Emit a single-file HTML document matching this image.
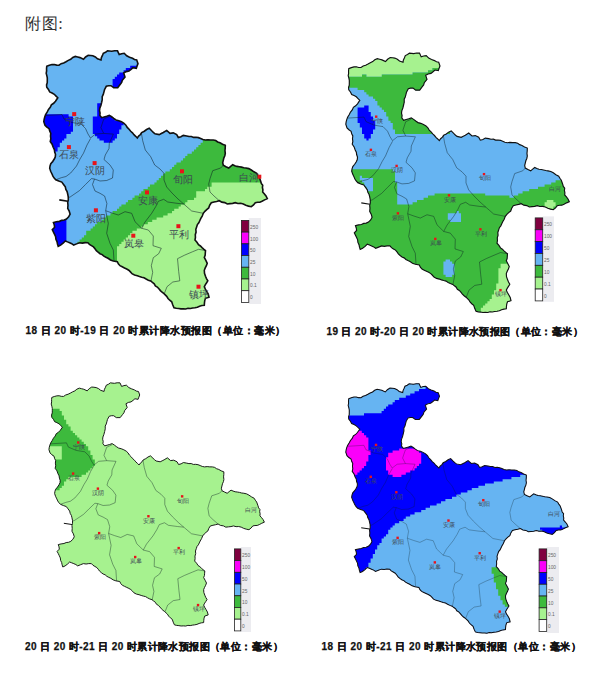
<!DOCTYPE html>
<html><head><meta charset="utf-8"><style>
html,body{margin:0;padding:0;background:#fff;width:600px;height:673px;overflow:hidden}
svg{position:absolute;left:0;top:0}
</style></head><body>
<svg width="600" height="673" viewBox="0 0 600 673">
<defs>
<path id="ol" d="M46.75,66.3 L49.3262,65.2992 L52,64.6 L54.3602,64.4869 L56.6551,65.1353 L59,65.2 L61.1612,63.6892 L63.6811,62.8956 L66,61.7 L68.295,60.3923 L70.7,59.3 L72.7879,57.5135 L75.3,56.4 L77.6483,57.0065 L80,57.6 L83.5,59.3 L85.5783,56.9597 L88.2,55.25 L90.5071,55.4657 L92.8,55.8 L95.3558,56.9471 L97.5,58.75 L101,59.9 L101.419,57.5788 L102.469,55.4776 L103.3,53.3 L105.55,52.3028 L107.5,50.8 L111.7,51.3 L114.571,50.7127 L117.5,50.8 L119.2,54.6 L121.637,53.7089 L124.2,53.3 L126.7,55.8 L129.555,57.1553 L132.5,58.3 L134.449,59.5235 L136.7,60 L138,63.7 L137.085,65.9759 L136.3,68.3 L133,67.7 L131.059,69.4217 L129,71 L126.199,71.599 L123.7,73 L125,77 L122.3,80.3 L121.665,82.4825 L120.3,84.3 L117.7,87.7 L113.7,87.7 L111,85.7 L108.609,85.68 L106.3,86.3 L104.5,89.7 L103.913,92.0924 L103.271,94.4666 L102.2,96.7 L102.242,99.6354 L101.6,102.5 L100.865,105.451 L99.8,108.3 L99.5155,110.633 L100.087,112.967 L99.8,115.3 L101.6,117.7 L104.189,116.97 L106.771,116.219 L109.3,115.3 L111.599,116.773 L113.742,118.469 L116,120 L118.817,120.736 L121.484,121.834 L124,123.3 L125.878,125.13 L127.226,127.404 L129.075,129.258 L130.7,131.3 L132.469,132.858 L133.945,134.704 L135.68,136.295 L137.3,138 L138.626,136.054 L140.44,134.499 L141.7,132.5 L144.288,131.256 L146.587,129.499 L149.2,128.3 L151.7,130.8 L153.305,132.325 L155,133.75 L159.2,134.6 L161.26,133.57 L163.3,132.5 L166.7,130.4 L170,133.3 L173.3,132.9 L176.7,134.6 L178.3,137.5 L180.931,136.761 L183.3,135.4 L186.7,136 L188.996,136.53 L191.376,136.461 L193.615,137.403 L196,137.3 L198.421,137.645 L200.671,138.579 L202.91,139.547 L205.3,140 L207.967,139.687 L210.633,139.99 L213.3,140 L215.688,140.515 L217.71,141.94 L220,142.7 L222.545,144.214 L225.3,145.3 L225.234,147.967 L224.962,150.633 L225.3,153.3 L224.812,155.695 L223.831,157.953 L223.268,160.327 L222.7,162.7 L223.3,165.3 L225.968,166.714 L228.7,168 L230.675,166.32 L232.7,164.7 L234.811,165.659 L236.984,166.416 L239.3,166.7 L241.538,167.11 L243.739,167.712 L246,168 L248.79,168.63 L251.3,170 L253.905,171.805 L256.7,173.3 L257.889,175.372 L259.3,177.3 L260.7,181.3 L261.303,183.498 L262.7,185.3 L262.41,187.533 L262.894,189.767 L262.7,192 L264.429,193.935 L266,196 L267.3,198.7 L264.583,199.864 L262,201.3 L259.855,202.187 L257.54,202.267 L255.3,202.7 L253.511,204.911 L251.3,206.7 L248.523,206.127 L245.84,205.276 L243.3,204 L240.672,203.328 L237.913,203.463 L235.3,202.7 L232.67,203.358 L229.982,203.664 L227.3,204 L224.761,202.591 L221.823,202.149 L219.3,200.7 L216.644,201.411 L213.956,201.99 L211.3,202.7 L209.69,205.198 L208.7,208 L206.699,209.562 L204.871,211.3 L203.3,213.3 L202.18,216.087 L200.7,218.7 L199.768,220.734 L198.814,222.757 L197.391,224.545 L196.7,226.7 L195.828,229.296 L196.076,232.087 L195.3,234.7 L195.441,237.366 L195,240 L196.943,242.206 L198.5,244.7 L200.403,245.965 L202.009,247.59 L203.699,249.112 L205.5,250.5 L205.31,252.869 L205.14,255.242 L204.3,257.5 L205.84,260.367 L207.25,263.3 L206.375,265.679 L205.228,267.943 L204.3,270.3 L204.5,273.331 L205.5,276.2 L206.497,278.577 L207.8,280.8 L206.621,282.76 L205.376,284.679 L204.3,286.7 L205.359,289.073 L206.7,291.3 L208.224,294.104 L209,297.2 L205.5,298.3 L204.746,300.573 L204.452,302.924 L204.3,305.3 L201.891,305.574 L199.583,306.24 L197.349,307.194 L195,307.7 L192.669,308.011 L190.353,308.495 L187.969,308.24 L185.677,308.972 L183.3,308.8 L180.929,308.912 L178.619,308.51 L176.289,308.277 L174,307.7 L172.716,304.802 L171.7,301.8 L169.735,300.238 L168.034,298.436 L166.7,296.3 L164,293.7 L162.103,292.247 L160.396,290.604 L158.888,288.762 L157.3,287 L155.363,285.816 L154.227,283.751 L152.419,282.424 L150.7,281 L148.327,280.184 L146.135,279 L144,277.7 L141.727,277.165 L139.498,276.484 L137.3,275.7 L134.53,275.018 L132,273.7 L130.442,271.898 L128.761,270.235 L126.7,269 L124.453,267.927 L122.227,266.813 L120,265.7 L118.341,263.909 L117.3,261.7 L113.3,261 L110.487,259.969 L108,258.3 L105.929,257.273 L103.894,256.184 L102.148,254.593 L100,253.7 L98.1179,252.249 L96.3632,250.67 L95,248.7 L93.487,246.89 L91.4664,245.681 L89.4697,244.443 L87.9,242.7 L85.1333,242.661 L82.3667,243.126 L79.6,242.7 L76.6155,243.877 L73.65,245.1 L71.7523,243.688 L69.6191,242.756 L67.4653,241.866 L65.3,241 L63.0913,243.212 L60.6,245.1 L58.2,246.3 L57.4837,243.954 L57,241.55 L55.9159,239.262 L55.632,236.705 L54.6,234.4 L53.4763,232.037 L52.3,229.7 L54.6,227.3 L54.2692,224.841 L53.45,222.5 L56.3959,221.774 L59.4,221.35 L61.6883,220.33 L64.2214,220.049 L66.5,219 L68.6491,216.862 L70.1,214.2 L69.194,211.13 L67.7,208.3 L67.9755,205.3 L67.7,202.3 L68.3,200 L68.2851,196.971 L67.7,194 L67.1045,191.564 L65.867,189.345 L65.3,186.9 L63.5628,184.491 L61.8,182.1 L58.7526,181.046 L55.8,179.75 L54.1797,178.067 L52.9122,176.151 L52,174 L50.6659,171.224 L49.7,168.3 L50.0392,165.95 L50.8,163.7 L52.689,161.453 L54.3,159 L55.2981,156.752 L55.5,154.3 L54.6882,151.981 L54.3403,149.511 L53.2,147.3 L52.1165,144.201 L50.25,141.5 L50.8419,138.794 L50.4951,136.025 L50.8,133.3 L49.714,131.087 L49.1,128.7 L46.8904,127.137 L45,125.2 L43.8,121.7 L44.1356,119.299 L44.7423,116.967 L45.6,114.7 L47.1475,112.154 L48.5,109.5 L50.2566,107.339 L51.4,104.8 L53.6489,103.283 L55.5,101.3 L57.8,97.8 L56.0369,96.0631 L54.3,94.3 L52.0616,93.0269 L49.7,92 L48.4534,89.5066 L46.75,87.3 L46.5608,84.9374 L47.2607,82.6447 L47.3,80.3 L47.2977,77.9094 L46.8177,75.5939 L46.2,73.3 L46.6078,70.9843 L46.547,68.6318Z"/>
<path id="cty" d="M46,115.5 L62,114.5 L64,119 L72,122.5 L81,124 L85.5,128.5 L88,134 L90.5,138 L95.4,134.1 L103.7,133.4 L113.4,134.1 M103.7,133.4 L100.9,127.7 L103.7,119.2 L109.2,116.5 M90.5,138.6 L87,145 L83.5,153.2 L80,159 L76.5,166 L70.7,173 L66,176.5 L61.3,177.7 L55.8,179.75 M113.4,134.1 L109.3,143.3 L109,148.5 L105.3,155 L104,159.5 L110,165 L113.3,170 L112.5,178 L106.7,180.5 L100,181 L94.5,179 L92.5,184.5 L95,191 L100,193.3 L104.6,196 L106.9,203.5 L105.7,210.7 M94.5,179 L91.5,178.6 L85.5,184.5 L79.6,190.5 L70.1,197 L67.9,197.5 M141.3,132.7 L142.7,140.7 L145.3,150 L150.7,156.7 L154.7,165 L160,169 L164,173.3 L164,180 L166.7,187 L172,193 L178,199 L183.7,204 M141.7,228.3 L145,222 L151.7,213.3 L155.7,206.7 L158.3,201.3 L163.7,199.3 L167.7,202 L177,203.3 L183.7,204 L191.7,211 L203.3,213.3 M223.3,165.3 L220.7,168 L212.7,170.7 L210,178.7 L208.7,184 L210,192 L214,196 L219.3,200.7 M105.7,210.7 L112,213 L118.3,215 L125,211.7 L131.7,213.3 L135,221.7 L141.7,228.3 L148.3,230 L153.3,236 L153,245.7 L161.3,248.3 L158.7,253.7 L153.3,257.7 L151.3,265.7 L152.7,272.3 L150.9,281.3 M105.7,210.7 L108.3,223.3 L106.7,233.3 L110,243.3 L113.3,250 L114,261 M205.5,250.5 L198.5,249.3 L192.7,251.7 L184.5,255.2 L177.5,258.7 L178.7,271.5 L179.8,280.8 L172.8,282 L167,286.7 L164.4,293.4"/>
<clipPath id="c1"><use href="#ol" transform="matrix(1,0,0,1,0,0)"/></clipPath>
<clipPath id="c2"><use href="#ol" transform="matrix(1.0,0,0,1.005,302,2)"/></clipPath>
<clipPath id="c3"><use href="#ol" transform="matrix(0.964,0,0,0.942,6.7,335)"/></clipPath>
<clipPath id="c4"><use href="#ol" transform="matrix(0.995,0,0,0.966,302.2,334.7)"/></clipPath>
</defs>
<text x="24.5" y="29.3" font-family="Liberation Serif" font-size="16.4" fill="#333">附</text><text x="42" y="29.3" font-family="Liberation Serif" font-size="16.4" fill="#333">图</text><text x="58.3" y="29.3" font-family="Liberation Serif" font-size="16.4" fill="#333">:</text>
<g clip-path="url(#c1)">
<rect x="0" y="0" width="600" height="673" fill="#66b4f2"/>
<path fill="#0000ff" d="M136.8,63.6h2.2v2.2h-2.2zM130.2,65.8h8.8v2.2h-8.8zM125.8,68.0h13.2v2.2h-13.2zM123.6,70.2h11.0v2.2h-11.0zM119.2,72.4h11.0v2.2h-11.0zM117.0,74.6h13.2v2.2h-13.2zM114.8,76.8h13.2v2.2h-13.2zM112.6,79.0h13.2v2.2h-13.2zM112.6,81.2h11.0v2.2h-11.0zM112.6,83.4h8.8v2.2h-8.8zM112.6,85.6h8.8v2.2h-8.8zM114.8,87.8h4.4v2.2h-4.4z"/>
<path fill="#0000ff" d="M40.0,114.2h28.6v2.2h-28.6zM40.0,116.4h33.0v2.2h-33.0zM40.0,118.6h33.0v2.2h-33.0zM40.0,120.8h33.0v2.2h-33.0zM40.0,123.0h33.0v2.2h-33.0zM40.0,125.2h33.0v2.2h-33.0zM40.0,127.4h33.0v2.2h-33.0zM40.0,129.6h33.0v2.2h-33.0zM40.0,131.8h30.8v2.2h-30.8zM40.0,134.0h26.4v2.2h-26.4zM40.0,136.2h26.4v2.2h-26.4zM40.0,138.4h24.2v2.2h-24.2zM40.0,140.6h22.0v2.2h-22.0zM40.0,142.8h19.8v2.2h-19.8zM40.0,145.0h19.8v2.2h-19.8zM40.0,147.2h17.6v2.2h-17.6zM40.0,149.4h17.6v2.2h-17.6zM40.0,151.6h15.4v2.2h-15.4zM40.0,153.8h15.4v2.2h-15.4zM40.0,156.0h15.4v2.2h-15.4zM40.0,158.2h13.2v2.2h-13.2zM40.0,160.4h13.2v2.2h-13.2zM40.0,162.6h11.0v2.2h-11.0z"/>
<path fill="#0000ff" d="M97.2,103.2h4.4v2.2h-4.4zM97.2,105.4h4.4v2.2h-4.4zM97.2,107.6h4.4v2.2h-4.4zM97.2,109.8h4.4v2.2h-4.4zM97.2,112.0h4.4v2.2h-4.4zM97.2,114.2h4.4v2.2h-4.4zM108.2,114.2h2.2v2.2h-2.2zM92.8,116.4h19.8v2.2h-19.8zM92.8,118.6h22.0v2.2h-22.0zM92.8,120.8h28.6v2.2h-28.6zM92.8,123.0h30.8v2.2h-30.8zM92.8,125.2h28.6v2.2h-28.6zM92.8,127.4h28.6v2.2h-28.6zM92.8,129.6h26.4v2.2h-26.4zM92.8,131.8h26.4v2.2h-26.4zM95.0,134.0h22.0v2.2h-22.0zM97.2,136.2h19.8v2.2h-19.8zM99.4,138.4h15.4v2.2h-15.4zM103.8,140.6h8.8v2.2h-8.8z"/>
<path fill="#0000ff" d="M40.0,219.8h26.4v2.2h-26.4zM40.0,222.0h26.4v2.2h-26.4zM40.0,224.2h26.4v2.2h-26.4zM40.0,226.4h26.4v2.2h-26.4zM40.0,228.6h26.4v2.2h-26.4zM40.0,230.8h26.4v2.2h-26.4zM40.0,233.0h26.4v2.2h-26.4zM40.0,235.2h26.4v2.2h-26.4zM40.0,237.4h26.4v2.2h-26.4zM40.0,239.6h26.4v2.2h-26.4zM40.0,241.8h24.2v2.2h-24.2zM40.0,244.0h24.2v2.2h-24.2zM40.0,246.2h22.0v2.2h-22.0zM40.0,248.4h19.8v2.2h-19.8z"/>
<path fill="#3dba3d" d="M209.4,125.2h63.8v2.2h-63.8zM209.4,127.4h63.8v2.2h-63.8zM207.2,129.6h66.0v2.2h-66.0zM207.2,131.8h66.0v2.2h-66.0zM205.0,134.0h68.2v2.2h-68.2zM205.0,136.2h68.2v2.2h-68.2zM202.8,138.4h70.4v2.2h-70.4zM202.8,140.6h70.4v2.2h-70.4zM200.6,142.8h72.6v2.2h-72.6zM198.4,145.0h74.8v2.2h-74.8zM196.2,147.2h77.0v2.2h-77.0zM194.0,149.4h79.2v2.2h-79.2zM191.8,151.6h81.4v2.2h-81.4zM187.4,153.8h85.8v2.2h-85.8zM185.2,156.0h88.0v2.2h-88.0zM183.0,158.2h90.2v2.2h-90.2zM180.8,160.4h92.4v2.2h-92.4zM176.4,162.6h96.8v2.2h-96.8zM174.2,164.8h99.0v2.2h-99.0zM172.0,167.0h101.2v2.2h-101.2zM169.8,169.2h103.4v2.2h-103.4zM165.4,171.4h107.8v2.2h-107.8zM163.2,173.6h110.0v2.2h-110.0zM161.0,175.8h112.2v2.2h-112.2zM158.8,178.0h114.4v2.2h-114.4zM156.6,180.2h116.6v2.2h-116.6zM154.4,182.4h118.8v2.2h-118.8zM150.0,184.6h123.2v2.2h-123.2zM147.8,186.8h125.4v2.2h-125.4zM143.4,189.0h129.8v2.2h-129.8zM141.2,191.2h132.0v2.2h-132.0zM139.0,193.4h134.2v2.2h-134.2zM134.6,195.6h138.6v2.2h-138.6zM132.4,197.8h140.8v2.2h-140.8zM128.0,200.0h145.2v2.2h-145.2zM125.8,202.2h147.4v2.2h-147.4zM121.4,204.4h151.8v2.2h-151.8zM119.2,206.6h154.0v2.2h-154.0zM117.0,208.8h156.2v2.2h-156.2zM112.6,211.0h160.6v2.2h-160.6zM110.4,213.2h162.8v2.2h-162.8zM106.0,215.4h167.2v2.2h-167.2zM103.8,217.6h169.4v2.2h-169.4zM101.6,219.8h171.6v2.2h-171.6zM97.2,222.0h176.0v2.2h-176.0zM95.0,224.2h178.2v2.2h-178.2zM92.8,226.4h180.4v2.2h-180.4zM90.6,228.6h182.6v2.2h-182.6zM86.2,230.8h187.0v2.2h-187.0zM86.2,233.0h187.0v2.2h-187.0zM84.0,235.2h189.2v2.2h-189.2zM81.8,237.4h191.4v2.2h-191.4zM79.6,239.6h193.6v2.2h-193.6zM77.4,241.8h195.8v2.2h-195.8zM77.4,244.0h195.8v2.2h-195.8zM75.2,246.2h198.0v2.2h-198.0zM73.0,248.4h200.2v2.2h-200.2zM70.8,250.6h202.4v2.2h-202.4zM68.6,252.8h204.6v2.2h-204.6zM68.6,255.0h204.6v2.2h-204.6zM66.4,257.2h206.8v2.2h-206.8zM64.2,259.4h209.0v2.2h-209.0zM62.0,261.6h211.2v2.2h-211.2zM59.8,263.8h213.4v2.2h-213.4zM57.6,266.0h215.6v2.2h-215.6zM57.6,268.2h215.6v2.2h-215.6zM55.4,270.4h217.8v2.2h-217.8zM53.2,272.6h220.0v2.2h-220.0zM51.0,274.8h222.2v2.2h-222.2zM48.8,277.0h224.4v2.2h-224.4zM48.8,279.2h224.4v2.2h-224.4zM46.6,281.4h226.6v2.2h-226.6zM44.4,283.6h228.8v2.2h-228.8zM42.2,285.8h231.0v2.2h-231.0zM40.0,288.0h233.2v2.2h-233.2zM40.0,290.2h233.2v2.2h-233.2zM40.0,292.4h233.2v2.2h-233.2zM40.0,294.6h233.2v2.2h-233.2zM40.0,296.8h233.2v2.2h-233.2zM40.0,299.0h233.2v2.2h-233.2zM40.0,301.2h233.2v2.2h-233.2zM40.0,303.4h233.2v2.2h-233.2zM40.0,305.6h233.2v2.2h-233.2zM40.0,307.8h233.2v2.2h-233.2zM40.0,310.0h233.2v2.2h-233.2zM40.0,312.2h233.2v2.2h-233.2z"/>
<path fill="#a6f28f" d="M211.6,182.4h61.6v2.2h-61.6zM211.6,184.6h61.6v2.2h-61.6zM207.2,186.8h66.0v2.2h-66.0zM205.0,189.0h68.2v2.2h-68.2zM196.2,191.2h77.0v2.2h-77.0zM196.2,193.4h77.0v2.2h-77.0zM196.2,195.6h77.0v2.2h-77.0zM194.0,197.8h79.2v2.2h-79.2zM187.4,200.0h85.8v2.2h-85.8zM185.2,202.2h88.0v2.2h-88.0zM180.8,204.4h92.4v2.2h-92.4zM178.6,206.6h94.6v2.2h-94.6zM174.2,208.8h99.0v2.2h-99.0zM172.0,211.0h101.2v2.2h-101.2zM167.6,213.2h105.6v2.2h-105.6zM163.2,215.4h110.0v2.2h-110.0zM156.6,217.6h116.6v2.2h-116.6zM152.2,219.8h121.0v2.2h-121.0zM147.8,222.0h125.4v2.2h-125.4zM143.4,224.2h129.8v2.2h-129.8zM141.2,226.4h132.0v2.2h-132.0zM136.8,228.6h136.4v2.2h-136.4zM132.4,230.8h140.8v2.2h-140.8zM130.2,233.0h143.0v2.2h-143.0zM128.0,235.2h145.2v2.2h-145.2zM125.8,237.4h147.4v2.2h-147.4zM123.6,239.6h149.6v2.2h-149.6zM121.4,241.8h151.8v2.2h-151.8zM119.2,244.0h154.0v2.2h-154.0zM117.0,246.2h156.2v2.2h-156.2zM117.0,248.4h156.2v2.2h-156.2zM117.0,250.6h156.2v2.2h-156.2zM117.0,252.8h156.2v2.2h-156.2zM117.0,255.0h156.2v2.2h-156.2zM117.0,257.2h156.2v2.2h-156.2zM117.0,259.4h156.2v2.2h-156.2zM117.0,261.6h156.2v2.2h-156.2zM117.0,263.8h156.2v2.2h-156.2zM117.0,266.0h156.2v2.2h-156.2zM117.0,268.2h156.2v2.2h-156.2zM117.0,270.4h156.2v2.2h-156.2zM117.0,272.6h156.2v2.2h-156.2zM117.0,274.8h156.2v2.2h-156.2zM117.0,277.0h156.2v2.2h-156.2zM117.0,279.2h156.2v2.2h-156.2zM117.0,281.4h156.2v2.2h-156.2zM117.0,283.6h156.2v2.2h-156.2zM117.0,285.8h156.2v2.2h-156.2zM117.0,288.0h156.2v2.2h-156.2zM117.0,290.2h156.2v2.2h-156.2zM117.0,292.4h156.2v2.2h-156.2zM117.0,294.6h156.2v2.2h-156.2zM117.0,296.8h156.2v2.2h-156.2zM117.0,299.0h156.2v2.2h-156.2zM117.0,301.2h156.2v2.2h-156.2zM117.0,303.4h156.2v2.2h-156.2zM117.0,305.6h156.2v2.2h-156.2zM117.0,307.8h156.2v2.2h-156.2zM117.0,310.0h156.2v2.2h-156.2zM117.0,312.2h156.2v2.2h-156.2z"/>
</g>
<use href="#cty" transform="matrix(1,0,0,1,0,0)" fill="none" stroke="#0a1a20" stroke-opacity="0.55" stroke-width="0.95"/>
<use href="#ol" transform="matrix(1,0,0,1,0,0)" fill="none" stroke="#111" stroke-width="1.6"/>
<path d="M67.80,201.20 L59.30,199.90" stroke="#111" stroke-width="1.6"/>
<rect x="72.20" y="112.10" width="4.0" height="4.0" fill="#e8141a"/>
<rect x="66.90" y="145.10" width="4.0" height="4.0" fill="#e8141a"/>
<rect x="92.60" y="161.10" width="4.0" height="4.0" fill="#e8141a"/>
<rect x="93.90" y="208.30" width="4.0" height="4.0" fill="#e8141a"/>
<rect x="145.00" y="190.40" width="4.0" height="4.0" fill="#e8141a"/>
<rect x="131.30" y="233.70" width="4.0" height="4.0" fill="#e8141a"/>
<rect x="180.00" y="169.30" width="4.0" height="4.0" fill="#e8141a"/>
<rect x="257.30" y="174.70" width="4.0" height="4.0" fill="#e8141a"/>
<rect x="176.40" y="224.20" width="4.0" height="4.0" fill="#e8141a"/>
<rect x="196.50" y="284.70" width="4.0" height="4.0" fill="#e8141a"/>
<text x="74.70" y="125.40" text-anchor="middle" font-size="10" fill="#3c4852" font-family="Liberation Sans">宁陕</text>
<text x="69.40" y="158.40" text-anchor="middle" font-size="10" fill="#3c4852" font-family="Liberation Sans">石泉</text>
<text x="95.10" y="174.40" text-anchor="middle" font-size="10" fill="#3c4852" font-family="Liberation Sans">汉阴</text>
<text x="96.40" y="221.60" text-anchor="middle" font-size="10" fill="#3c4852" font-family="Liberation Sans">紫阳</text>
<text x="147.50" y="203.70" text-anchor="middle" font-size="10" fill="#3c4852" font-family="Liberation Sans">安康</text>
<text x="133.80" y="247.00" text-anchor="middle" font-size="10" fill="#3c4852" font-family="Liberation Sans">岚皋</text>
<text x="182.50" y="182.60" text-anchor="middle" font-size="10" fill="#3c4852" font-family="Liberation Sans">旬阳</text>
<text x="248.6" y="181" text-anchor="middle" font-size="10" fill="#3c4852" font-family="Liberation Sans">白河</text>
<text x="178.90" y="237.50" text-anchor="middle" font-size="10" fill="#3c4852" font-family="Liberation Sans">平利</text>
<text x="199.00" y="298.00" text-anchor="middle" font-size="10" fill="#3c4852" font-family="Liberation Sans">镇坪</text>
<g clip-path="url(#c2)">
<rect x="0" y="0" width="600" height="673" fill="#66b4f2"/>
<path fill="#a6f28f" d="M340.0,46.0h110.0v2.2h-110.0zM340.0,48.2h110.0v2.2h-110.0zM340.0,50.4h110.0v2.2h-110.0zM340.0,52.6h110.0v2.2h-110.0zM340.0,54.8h110.0v2.2h-110.0zM340.0,57.0h110.0v2.2h-110.0zM340.0,59.2h110.0v2.2h-110.0zM340.0,61.4h110.0v2.2h-110.0zM340.0,63.6h105.6v2.2h-105.6zM340.0,65.8h99.0v2.2h-99.0zM340.0,68.0h92.4v2.2h-92.4zM340.0,70.2h88.0v2.2h-88.0zM340.0,72.4h72.6v2.2h-72.6zM340.0,74.6h22.0v2.2h-22.0zM366.4,74.6h15.4v2.2h-15.4z"/>
<path fill="#3dba3d" d="M445.6,63.6h4.4v2.2h-4.4zM439.0,65.8h11.0v2.2h-11.0zM432.4,68.0h17.6v2.2h-17.6zM428.0,70.2h22.0v2.2h-22.0zM412.6,72.4h37.4v2.2h-37.4zM362.0,74.6h4.4v2.2h-4.4zM381.8,74.6h68.2v2.2h-68.2zM340.0,76.8h110.0v2.2h-110.0zM340.0,79.0h110.0v2.2h-110.0zM340.0,81.2h110.0v2.2h-110.0zM340.0,83.4h110.0v2.2h-110.0zM340.0,85.6h110.0v2.2h-110.0zM357.6,87.8h92.4v2.2h-92.4zM364.2,90.0h85.8v2.2h-85.8zM366.4,92.2h83.6v2.2h-83.6zM368.6,94.4h81.4v2.2h-81.4zM373.0,96.6h77.0v2.2h-77.0zM375.2,98.8h74.8v2.2h-74.8zM377.4,101.0h72.6v2.2h-72.6zM377.4,103.2h72.6v2.2h-72.6zM379.6,105.4h70.4v2.2h-70.4zM381.8,107.6h68.2v2.2h-68.2zM384.0,109.8h66.0v2.2h-66.0zM386.2,112.0h63.8v2.2h-63.8zM386.2,114.2h63.8v2.2h-63.8zM388.4,116.4h61.6v2.2h-61.6zM388.4,118.6h61.6v2.2h-61.6zM390.6,120.8h59.4v2.2h-59.4zM392.8,123.0h57.2v2.2h-57.2zM392.8,125.2h57.2v2.2h-57.2zM392.8,127.4h57.2v2.2h-57.2zM395.0,129.6h55.0v2.2h-55.0zM395.0,131.8h55.0v2.2h-55.0z"/>
<path fill="#0000ff" d="M364.2,105.4h4.4v2.2h-4.4zM357.6,107.6h11.0v2.2h-11.0zM357.6,109.8h11.0v2.2h-11.0zM357.6,112.0h13.2v2.2h-13.2zM357.6,114.2h13.2v2.2h-13.2zM357.6,116.4h15.4v2.2h-15.4zM357.6,118.6h15.4v2.2h-15.4zM357.6,120.8h17.6v2.2h-17.6zM359.8,123.0h15.4v2.2h-15.4zM359.8,125.2h15.4v2.2h-15.4zM362.0,127.4h13.2v2.2h-13.2zM362.0,129.6h11.0v2.2h-11.0zM362.0,131.8h11.0v2.2h-11.0zM364.2,134.0h6.6v2.2h-6.6zM364.2,136.2h6.6v2.2h-6.6zM366.4,138.4h2.2v2.2h-2.2z"/>
<path fill="#3dba3d" d="M340.0,169.2h52.8v2.2h-52.8zM340.0,171.4h55.0v2.2h-55.0zM340.0,173.6h55.0v2.2h-55.0zM340.0,175.8h55.0v2.2h-55.0zM340.0,178.0h55.0v2.2h-55.0zM571.0,178.0h4.4v2.2h-4.4zM340.0,180.2h55.0v2.2h-55.0zM555.6,180.2h19.8v2.2h-19.8zM340.0,182.4h57.2v2.2h-57.2zM551.2,182.4h24.2v2.2h-24.2zM340.0,184.6h57.2v2.2h-57.2zM544.6,184.6h30.8v2.2h-30.8zM340.0,186.8h57.2v2.2h-57.2zM538.0,186.8h37.4v2.2h-37.4zM340.0,189.0h57.2v2.2h-57.2zM529.2,189.0h46.2v2.2h-46.2zM340.0,191.2h57.2v2.2h-57.2zM522.6,191.2h52.8v2.2h-52.8zM340.0,193.4h57.2v2.2h-57.2zM434.6,193.4h50.6v2.2h-50.6zM518.2,193.4h57.2v2.2h-57.2zM340.0,195.6h57.2v2.2h-57.2zM428.0,195.6h81.4v2.2h-81.4zM513.8,195.6h61.6v2.2h-61.6zM340.0,197.8h57.2v2.2h-57.2zM423.6,197.8h151.8v2.2h-151.8zM340.0,200.0h57.2v2.2h-57.2zM417.0,200.0h158.4v2.2h-158.4zM340.0,202.2h57.2v2.2h-57.2zM412.6,202.2h162.8v2.2h-162.8zM340.0,204.4h235.4v2.2h-235.4zM340.0,206.6h235.4v2.2h-235.4zM340.0,208.8h235.4v2.2h-235.4zM340.0,211.0h235.4v2.2h-235.4zM340.0,213.2h235.4v2.2h-235.4zM340.0,215.4h235.4v2.2h-235.4zM340.0,217.6h235.4v2.2h-235.4zM340.0,219.8h235.4v2.2h-235.4zM340.0,222.0h235.4v2.2h-235.4zM340.0,224.2h235.4v2.2h-235.4zM340.0,226.4h235.4v2.2h-235.4zM340.0,228.6h235.4v2.2h-235.4zM340.0,230.8h235.4v2.2h-235.4zM340.0,233.0h235.4v2.2h-235.4zM340.0,235.2h235.4v2.2h-235.4zM340.0,237.4h235.4v2.2h-235.4zM340.0,239.6h235.4v2.2h-235.4zM340.0,241.8h235.4v2.2h-235.4zM340.0,244.0h235.4v2.2h-235.4zM340.0,246.2h235.4v2.2h-235.4zM340.0,248.4h235.4v2.2h-235.4zM340.0,250.6h235.4v2.2h-235.4zM340.0,252.8h235.4v2.2h-235.4zM340.0,255.0h235.4v2.2h-235.4zM340.0,257.2h235.4v2.2h-235.4zM340.0,259.4h235.4v2.2h-235.4zM340.0,261.6h235.4v2.2h-235.4zM340.0,263.8h235.4v2.2h-235.4zM340.0,266.0h235.4v2.2h-235.4zM340.0,268.2h235.4v2.2h-235.4zM340.0,270.4h235.4v2.2h-235.4zM340.0,272.6h235.4v2.2h-235.4zM340.0,274.8h235.4v2.2h-235.4zM340.0,277.0h235.4v2.2h-235.4zM340.0,279.2h235.4v2.2h-235.4zM340.0,281.4h235.4v2.2h-235.4zM340.0,283.6h235.4v2.2h-235.4zM340.0,285.8h235.4v2.2h-235.4zM340.0,288.0h235.4v2.2h-235.4zM340.0,290.2h235.4v2.2h-235.4zM340.0,292.4h235.4v2.2h-235.4zM340.0,294.6h235.4v2.2h-235.4zM340.0,296.8h235.4v2.2h-235.4zM340.0,299.0h235.4v2.2h-235.4zM340.0,301.2h235.4v2.2h-235.4zM340.0,303.4h235.4v2.2h-235.4zM340.0,305.6h235.4v2.2h-235.4zM340.0,307.8h235.4v2.2h-235.4zM340.0,310.0h235.4v2.2h-235.4zM340.0,312.2h235.4v2.2h-235.4zM340.0,314.4h235.4v2.2h-235.4zM340.0,316.6h235.4v2.2h-235.4z"/>
<path fill="#66b4f2" d="M359.8,175.8h2.2v2.2h-2.2zM359.8,178.0h13.2v2.2h-13.2zM362.0,180.2h11.0v2.2h-11.0zM364.2,182.4h8.8v2.2h-8.8zM364.2,184.6h8.8v2.2h-8.8zM366.4,186.8h6.6v2.2h-6.6zM366.4,189.0h6.6v2.2h-6.6z"/>
<path fill="#66b4f2" d="M456.6,211.0h2.2v2.2h-2.2zM447.8,213.2h13.2v2.2h-13.2zM447.8,215.4h13.2v2.2h-13.2zM447.8,217.6h13.2v2.2h-13.2zM450.0,219.8h11.0v2.2h-11.0z"/>
<path fill="#66b4f2" d="M445.6,259.4h4.4v2.2h-4.4zM443.4,261.6h8.8v2.2h-8.8zM443.4,263.8h11.0v2.2h-11.0zM443.4,266.0h11.0v2.2h-11.0zM443.4,268.2h11.0v2.2h-11.0zM443.4,270.4h11.0v2.2h-11.0zM443.4,272.6h11.0v2.2h-11.0zM445.6,274.8h6.6v2.2h-6.6z"/>
<path fill="#a6f28f" d="M546.8,200.0h6.6v2.2h-6.6zM544.6,202.2h11.0v2.2h-11.0zM544.6,204.4h11.0v2.2h-11.0zM544.6,206.6h8.8v2.2h-8.8z"/>
<path fill="#a6f28f" d="M500.6,263.8h19.8v2.2h-19.8zM500.6,266.0h19.8v2.2h-19.8zM498.4,268.2h22.0v2.2h-22.0zM498.4,270.4h22.0v2.2h-22.0zM498.4,272.6h22.0v2.2h-22.0zM498.4,274.8h22.0v2.2h-22.0zM498.4,277.0h22.0v2.2h-22.0zM498.4,279.2h22.0v2.2h-22.0zM498.4,281.4h22.0v2.2h-22.0zM496.2,283.6h24.2v2.2h-24.2zM496.2,285.8h24.2v2.2h-24.2zM496.2,288.0h24.2v2.2h-24.2zM494.0,290.2h26.4v2.2h-26.4zM494.0,292.4h26.4v2.2h-26.4zM491.8,294.6h28.6v2.2h-28.6zM491.8,296.8h28.6v2.2h-28.6zM489.6,299.0h30.8v2.2h-30.8zM487.4,301.2h33.0v2.2h-33.0zM485.2,303.4h35.2v2.2h-35.2zM483.0,305.6h37.4v2.2h-37.4zM480.8,307.8h39.6v2.2h-39.6zM480.8,310.0h39.6v2.2h-39.6zM502.8,312.2h17.6v2.2h-17.6z"/>
</g>
<use href="#cty" transform="matrix(1.0,0,0,1.005,302,2)" fill="none" stroke="#0a1a20" stroke-opacity="0.5" stroke-width="0.85"/>
<use href="#ol" transform="matrix(1.0,0,0,1.005,302,2)" fill="none" stroke="#111" stroke-width="1.15"/>
<path d="M369.80,204.21 L361.30,202.90" stroke="#111" stroke-width="1.15"/>
<rect x="375.00" y="115.47" width="2.4" height="2.4" fill="#e8141a"/>
<rect x="369.70" y="148.64" width="2.4" height="2.4" fill="#e8141a"/>
<rect x="395.40" y="164.72" width="2.4" height="2.4" fill="#e8141a"/>
<rect x="396.70" y="212.15" width="2.4" height="2.4" fill="#e8141a"/>
<rect x="447.80" y="194.16" width="2.4" height="2.4" fill="#e8141a"/>
<rect x="434.10" y="237.68" width="2.4" height="2.4" fill="#e8141a"/>
<rect x="482.80" y="172.96" width="2.4" height="2.4" fill="#e8141a"/>
<rect x="479.20" y="228.13" width="2.4" height="2.4" fill="#e8141a"/>
<rect x="499.30" y="288.93" width="2.4" height="2.4" fill="#e8141a"/>
<text x="376.70" y="122.97" text-anchor="middle" font-size="6" fill="#3c4852" font-family="Liberation Sans">宁陕</text>
<text x="371.40" y="156.14" text-anchor="middle" font-size="6" fill="#3c4852" font-family="Liberation Sans">石泉</text>
<text x="397.10" y="172.22" text-anchor="middle" font-size="6" fill="#3c4852" font-family="Liberation Sans">汉阴</text>
<text x="398.40" y="219.65" text-anchor="middle" font-size="6" fill="#3c4852" font-family="Liberation Sans">紫阳</text>
<text x="449.50" y="201.66" text-anchor="middle" font-size="6" fill="#3c4852" font-family="Liberation Sans">安康</text>
<text x="435.80" y="245.18" text-anchor="middle" font-size="6" fill="#3c4852" font-family="Liberation Sans">岚皋</text>
<text x="484.50" y="180.46" text-anchor="middle" font-size="6" fill="#3c4852" font-family="Liberation Sans">旬阳</text>
<text x="555.00" y="190.71" text-anchor="middle" font-size="6" fill="#3c4852" font-family="Liberation Sans">白河</text>
<text x="480.90" y="235.63" text-anchor="middle" font-size="6" fill="#3c4852" font-family="Liberation Sans">平利</text>
<text x="501.00" y="296.43" text-anchor="middle" font-size="6" fill="#3c4852" font-family="Liberation Sans">镇坪</text>
<g clip-path="url(#c3)">
<rect x="0" y="0" width="600" height="673" fill="#a6f28f"/>
<path fill="#3dba3d" d="M42.0,406.6h6.6v2.2h-6.6zM42.0,408.8h17.6v2.2h-17.6zM42.0,411.0h19.8v2.2h-19.8zM42.0,413.2h19.8v2.2h-19.8zM42.0,415.4h22.0v2.2h-22.0zM42.0,417.6h22.0v2.2h-22.0zM42.0,419.8h24.2v2.2h-24.2zM42.0,422.0h24.2v2.2h-24.2zM42.0,424.2h26.4v2.2h-26.4zM42.0,426.4h28.6v2.2h-28.6zM42.0,428.6h28.6v2.2h-28.6zM42.0,430.8h30.8v2.2h-30.8zM42.0,433.0h33.0v2.2h-33.0zM42.0,435.2h35.2v2.2h-35.2zM42.0,437.4h37.4v2.2h-37.4zM42.0,439.6h39.6v2.2h-39.6zM42.0,441.8h41.8v2.2h-41.8zM42.0,444.0h44.0v2.2h-44.0zM42.0,446.2h46.2v2.2h-46.2zM42.0,448.4h46.2v2.2h-46.2zM42.0,450.6h48.4v2.2h-48.4zM42.0,452.8h48.4v2.2h-48.4zM42.0,455.0h50.6v2.2h-50.6zM42.0,457.2h50.6v2.2h-50.6zM42.0,459.4h52.8v2.2h-52.8zM42.0,461.6h52.8v2.2h-52.8zM42.0,463.8h52.8v2.2h-52.8zM42.0,466.0h50.6v2.2h-50.6zM42.0,468.2h48.4v2.2h-48.4zM42.0,470.4h46.2v2.2h-46.2zM42.0,472.6h44.0v2.2h-44.0zM42.0,474.8h39.6v2.2h-39.6zM42.0,477.0h26.4v2.2h-26.4zM42.0,479.2h24.2v2.2h-24.2zM42.0,481.4h22.0v2.2h-22.0zM42.0,483.6h22.0v2.2h-22.0zM42.0,485.8h19.8v2.2h-19.8zM42.0,488.0h17.6v2.2h-17.6zM42.0,490.2h2.2v2.2h-2.2z"/>
<path fill="#a6f28f" d="M42.0,446.2h19.8v2.2h-19.8zM42.0,448.4h19.8v2.2h-19.8zM42.0,450.6h19.8v2.2h-19.8zM42.0,452.8h19.8v2.2h-19.8zM42.0,455.0h19.8v2.2h-19.8zM42.0,457.2h19.8v2.2h-19.8z"/>
</g>
<use href="#cty" transform="matrix(0.964,0,0,0.942,6.7,335)" fill="none" stroke="#0a1a20" stroke-opacity="0.5" stroke-width="0.85"/>
<use href="#ol" transform="matrix(0.964,0,0,0.942,6.7,335)" fill="none" stroke="#111" stroke-width="1.0"/>
<path d="M72.06,524.53 L63.87,523.31" stroke="#111" stroke-width="1.0"/>
<rect x="77.03" y="441.28" width="2.4" height="2.4" fill="#e8141a"/>
<rect x="71.92" y="472.37" width="2.4" height="2.4" fill="#e8141a"/>
<rect x="96.69" y="487.44" width="2.4" height="2.4" fill="#e8141a"/>
<rect x="97.95" y="531.90" width="2.4" height="2.4" fill="#e8141a"/>
<rect x="147.21" y="515.04" width="2.4" height="2.4" fill="#e8141a"/>
<rect x="134.00" y="555.83" width="2.4" height="2.4" fill="#e8141a"/>
<rect x="180.95" y="495.16" width="2.4" height="2.4" fill="#e8141a"/>
<rect x="177.48" y="546.88" width="2.4" height="2.4" fill="#e8141a"/>
<rect x="196.85" y="603.87" width="2.4" height="2.4" fill="#e8141a"/>
<text x="78.71" y="448.78" text-anchor="middle" font-size="6" fill="#3c4852" font-family="Liberation Sans">宁陕</text>
<text x="73.60" y="479.87" text-anchor="middle" font-size="6" fill="#3c4852" font-family="Liberation Sans">石泉</text>
<text x="98.38" y="494.94" text-anchor="middle" font-size="6" fill="#3c4852" font-family="Liberation Sans">汉阴</text>
<text x="99.63" y="539.40" text-anchor="middle" font-size="6" fill="#3c4852" font-family="Liberation Sans">紫阳</text>
<text x="148.89" y="522.54" text-anchor="middle" font-size="6" fill="#3c4852" font-family="Liberation Sans">安康</text>
<text x="135.68" y="563.33" text-anchor="middle" font-size="6" fill="#3c4852" font-family="Liberation Sans">岚皋</text>
<text x="182.63" y="502.66" text-anchor="middle" font-size="6" fill="#3c4852" font-family="Liberation Sans">旬阳</text>
<text x="250.59" y="512.27" text-anchor="middle" font-size="6" fill="#3c4852" font-family="Liberation Sans">白河</text>
<text x="179.16" y="554.38" text-anchor="middle" font-size="6" fill="#3c4852" font-family="Liberation Sans">平利</text>
<text x="198.54" y="611.37" text-anchor="middle" font-size="6" fill="#3c4852" font-family="Liberation Sans">镇坪</text>
<g clip-path="url(#c4)">
<rect x="0" y="0" width="600" height="673" fill="#0000ff"/>
<path fill="#66b4f2" d="M342.0,378.0h107.8v2.2h-107.8zM342.0,380.2h103.4v2.2h-103.4zM342.0,382.4h96.8v2.2h-96.8zM342.0,384.6h90.2v2.2h-90.2zM342.0,386.8h83.6v2.2h-83.6zM342.0,389.0h77.0v2.2h-77.0zM342.0,391.2h72.6v2.2h-72.6zM342.0,393.4h68.2v2.2h-68.2zM342.0,395.6h63.8v2.2h-63.8zM342.0,397.8h57.2v2.2h-57.2zM342.0,400.0h52.8v2.2h-52.8zM342.0,402.2h50.6v2.2h-50.6zM342.0,404.4h46.2v2.2h-46.2zM342.0,406.6h44.0v2.2h-44.0zM342.0,408.8h41.8v2.2h-41.8zM342.0,411.0h39.6v2.2h-39.6zM346.4,413.2h17.6v2.2h-17.6z"/>
<path fill="#fa00fa" d="M353.0,430.8h8.8v2.2h-8.8zM348.6,433.0h15.4v2.2h-15.4zM344.2,435.2h22.0v2.2h-22.0zM342.0,437.4h26.4v2.2h-26.4zM342.0,439.6h26.4v2.2h-26.4zM342.0,441.8h26.4v2.2h-26.4zM342.0,444.0h26.4v2.2h-26.4zM342.0,446.2h26.4v2.2h-26.4zM342.0,448.4h26.4v2.2h-26.4zM342.0,450.6h28.6v2.2h-28.6zM342.0,452.8h28.6v2.2h-28.6zM342.0,455.0h26.4v2.2h-26.4zM342.0,457.2h26.4v2.2h-26.4zM342.0,459.4h26.4v2.2h-26.4zM342.0,461.6h24.2v2.2h-24.2zM342.0,463.8h24.2v2.2h-24.2zM342.0,466.0h22.0v2.2h-22.0zM342.0,468.2h19.8v2.2h-19.8zM342.0,470.4h17.6v2.2h-17.6zM342.0,472.6h15.4v2.2h-15.4zM342.0,474.8h13.2v2.2h-13.2z"/>
<path fill="#fa00fa" d="M399.2,448.4h17.6v2.2h-17.6zM392.6,450.6h26.4v2.2h-26.4zM388.2,452.8h33.0v2.2h-33.0zM388.2,455.0h33.0v2.2h-33.0zM386.0,457.2h35.2v2.2h-35.2zM386.0,459.4h35.2v2.2h-35.2zM386.0,461.6h35.2v2.2h-35.2zM386.0,463.8h33.0v2.2h-33.0zM386.0,466.0h30.8v2.2h-30.8zM386.0,468.2h28.6v2.2h-28.6zM388.2,470.4h22.0v2.2h-22.0zM388.2,472.6h17.6v2.2h-17.6zM392.6,474.8h8.8v2.2h-8.8z"/>
<path fill="#66b4f2" d="M542.2,472.6h30.8v2.2h-30.8zM520.2,474.8h52.8v2.2h-52.8zM511.4,477.0h61.6v2.2h-61.6zM502.6,479.2h70.4v2.2h-70.4zM493.8,481.4h79.2v2.2h-79.2zM485.0,483.6h88.0v2.2h-88.0zM478.4,485.8h94.6v2.2h-94.6zM471.8,488.0h101.2v2.2h-101.2zM467.4,490.2h105.6v2.2h-105.6zM460.8,492.4h112.2v2.2h-112.2zM456.4,494.6h116.6v2.2h-116.6zM452.0,496.8h121.0v2.2h-121.0zM445.4,499.0h127.6v2.2h-127.6zM441.0,501.2h132.0v2.2h-132.0zM436.6,503.4h136.4v2.2h-136.4zM430.0,505.6h143.0v2.2h-143.0zM425.6,507.8h147.4v2.2h-147.4zM421.2,510.0h151.8v2.2h-151.8zM414.6,512.2h158.4v2.2h-158.4zM410.2,514.4h162.8v2.2h-162.8zM405.8,516.6h167.2v2.2h-167.2zM403.6,518.8h169.4v2.2h-169.4zM399.2,521.0h173.8v2.2h-173.8zM394.8,523.2h178.2v2.2h-178.2zM392.6,525.4h180.4v2.2h-180.4zM390.4,527.6h182.6v2.2h-182.6zM388.2,529.8h184.8v2.2h-184.8zM388.2,532.0h184.8v2.2h-184.8zM386.0,534.2h187.0v2.2h-187.0zM383.8,536.4h189.2v2.2h-189.2zM381.6,538.6h191.4v2.2h-191.4zM381.6,540.8h191.4v2.2h-191.4zM379.4,543.0h193.6v2.2h-193.6zM377.2,545.2h195.8v2.2h-195.8zM377.2,547.4h195.8v2.2h-195.8zM375.0,549.6h198.0v2.2h-198.0zM375.0,551.8h198.0v2.2h-198.0zM372.8,554.0h200.2v2.2h-200.2zM372.8,556.2h200.2v2.2h-200.2zM370.6,558.4h202.4v2.2h-202.4zM370.6,560.6h202.4v2.2h-202.4zM368.4,562.8h204.6v2.2h-204.6zM368.4,565.0h204.6v2.2h-204.6zM366.2,567.2h206.8v2.2h-206.8zM364.0,569.4h209.0v2.2h-209.0zM361.8,571.6h211.2v2.2h-211.2zM357.4,573.8h215.6v2.2h-215.6zM355.2,576.0h217.8v2.2h-217.8zM350.8,578.2h222.2v2.2h-222.2zM348.6,580.4h224.4v2.2h-224.4zM344.2,582.6h228.8v2.2h-228.8zM342.0,584.8h231.0v2.2h-231.0zM342.0,587.0h231.0v2.2h-231.0zM342.0,589.2h231.0v2.2h-231.0zM342.0,591.4h231.0v2.2h-231.0zM342.0,593.6h231.0v2.2h-231.0zM342.0,595.8h231.0v2.2h-231.0zM342.0,598.0h231.0v2.2h-231.0zM342.0,600.2h231.0v2.2h-231.0zM342.0,602.4h231.0v2.2h-231.0zM342.0,604.6h231.0v2.2h-231.0zM342.0,606.8h231.0v2.2h-231.0zM342.0,609.0h231.0v2.2h-231.0zM342.0,611.2h231.0v2.2h-231.0zM342.0,613.4h231.0v2.2h-231.0zM342.0,615.6h231.0v2.2h-231.0zM342.0,617.8h231.0v2.2h-231.0zM342.0,620.0h231.0v2.2h-231.0zM342.0,622.2h231.0v2.2h-231.0zM342.0,624.4h231.0v2.2h-231.0zM342.0,626.6h231.0v2.2h-231.0zM342.0,628.8h231.0v2.2h-231.0zM342.0,631.0h231.0v2.2h-231.0zM342.0,633.2h231.0v2.2h-231.0zM342.0,635.4h231.0v2.2h-231.0zM342.0,637.6h231.0v2.2h-231.0z"/>
<path fill="#0000ff" d="M559.8,525.4h2.2v2.2h-2.2zM540.0,527.6h30.8v2.2h-30.8zM542.2,529.8h28.6v2.2h-28.6zM544.4,532.0h26.4v2.2h-26.4zM557.6,534.2h13.2v2.2h-13.2zM564.2,536.4h6.6v2.2h-6.6zM568.6,538.6h2.2v2.2h-2.2z"/>
<path fill="#3dba3d" d="M491.6,567.2h6.6v2.2h-6.6zM491.6,569.4h8.8v2.2h-8.8zM491.6,571.6h11.0v2.2h-11.0zM493.8,573.8h11.0v2.2h-11.0zM493.8,576.0h26.4v2.2h-26.4zM493.8,578.2h26.4v2.2h-26.4zM493.8,580.4h26.4v2.2h-26.4zM496.0,582.6h24.2v2.2h-24.2zM496.0,584.8h24.2v2.2h-24.2zM496.0,587.0h24.2v2.2h-24.2zM498.2,589.2h22.0v2.2h-22.0zM498.2,591.4h22.0v2.2h-22.0zM498.2,593.6h22.0v2.2h-22.0zM500.4,595.8h19.8v2.2h-19.8zM500.4,598.0h19.8v2.2h-19.8zM502.6,600.2h17.6v2.2h-17.6zM502.6,602.4h17.6v2.2h-17.6zM504.8,604.6h15.4v2.2h-15.4zM511.4,606.8h8.8v2.2h-8.8z"/>
</g>
<use href="#cty" transform="matrix(0.995,0,0,0.966,302.2,334.7)" fill="none" stroke="#0a1a20" stroke-opacity="0.35" stroke-width="0.85"/>
<use href="#ol" transform="matrix(0.995,0,0,0.966,302.2,334.7)" fill="none" stroke="#111" stroke-width="1.05"/>
<path d="M369.66,529.06 L361.20,527.80" stroke="#111" stroke-width="1.05"/>
<rect x="374.83" y="443.72" width="2.4" height="2.4" fill="#e8141a"/>
<rect x="369.56" y="475.60" width="2.4" height="2.4" fill="#e8141a"/>
<rect x="395.13" y="491.05" width="2.4" height="2.4" fill="#e8141a"/>
<rect x="396.42" y="536.65" width="2.4" height="2.4" fill="#e8141a"/>
<rect x="447.26" y="519.36" width="2.4" height="2.4" fill="#e8141a"/>
<rect x="433.63" y="561.19" width="2.4" height="2.4" fill="#e8141a"/>
<rect x="482.09" y="498.98" width="2.4" height="2.4" fill="#e8141a"/>
<rect x="478.51" y="552.01" width="2.4" height="2.4" fill="#e8141a"/>
<rect x="498.51" y="610.45" width="2.4" height="2.4" fill="#e8141a"/>
<text x="376.53" y="451.22" text-anchor="middle" font-size="6" fill="#3c4852" font-family="Liberation Sans">宁陕</text>
<text x="371.25" y="483.10" text-anchor="middle" font-size="6" fill="#3c4852" font-family="Liberation Sans">石泉</text>
<text x="396.82" y="498.55" text-anchor="middle" font-size="6" fill="#3c4852" font-family="Liberation Sans">汉阴</text>
<text x="398.12" y="544.15" text-anchor="middle" font-size="6" fill="#3c4852" font-family="Liberation Sans">紫阳</text>
<text x="448.96" y="526.86" text-anchor="middle" font-size="6" fill="#3c4852" font-family="Liberation Sans">安康</text>
<text x="435.33" y="568.69" text-anchor="middle" font-size="6" fill="#3c4852" font-family="Liberation Sans">岚皋</text>
<text x="483.79" y="506.48" text-anchor="middle" font-size="6" fill="#3c4852" font-family="Liberation Sans">旬阳</text>
<text x="553.93" y="516.33" text-anchor="middle" font-size="6" fill="#3c4852" font-family="Liberation Sans">白河</text>
<text x="480.21" y="559.51" text-anchor="middle" font-size="6" fill="#3c4852" font-family="Liberation Sans">平利</text>
<text x="500.20" y="617.95" text-anchor="middle" font-size="6" fill="#3c4852" font-family="Liberation Sans">镇坪</text>
<rect x="248.8" y="218" width="12.199999999999994" height="86" fill="#ececf0"/>
<rect x="241.4" y="220.40" width="7.4" height="11.71" fill="#800040" stroke="#222" stroke-width="0.8"/>
<text x="250.10000000000002" y="228.86" font-size="4.8" fill="#666" font-family="Liberation Sans">250</text>
<rect x="241.4" y="232.11" width="7.4" height="11.71" fill="#fa00fa" stroke="#222" stroke-width="0.8"/>
<text x="250.10000000000002" y="240.57" font-size="4.8" fill="#666" font-family="Liberation Sans">100</text>
<rect x="241.4" y="243.83" width="7.4" height="11.71" fill="#0000ff" stroke="#222" stroke-width="0.8"/>
<text x="250.10000000000002" y="252.29" font-size="4.8" fill="#666" font-family="Liberation Sans">50</text>
<rect x="241.4" y="255.54" width="7.4" height="11.71" fill="#66b4f2" stroke="#222" stroke-width="0.8"/>
<text x="250.10000000000002" y="264.00" font-size="4.8" fill="#666" font-family="Liberation Sans">25</text>
<rect x="241.4" y="267.26" width="7.4" height="11.71" fill="#3dba3d" stroke="#222" stroke-width="0.8"/>
<text x="250.10000000000002" y="275.71" font-size="4.8" fill="#666" font-family="Liberation Sans">10</text>
<rect x="241.4" y="278.97" width="7.4" height="11.71" fill="#a6f28f" stroke="#222" stroke-width="0.8"/>
<text x="250.10000000000002" y="287.43" font-size="4.8" fill="#666" font-family="Liberation Sans">0.1</text>
<rect x="241.4" y="290.69" width="7.4" height="11.71" fill="#ffffff" stroke="#222" stroke-width="0.8"/>
<text x="250.10000000000002" y="299.14" font-size="4.8" fill="#666" font-family="Liberation Sans">0</text>
<rect x="542.7" y="216.4" width="11.299999999999955" height="85.4" fill="#ececf0"/>
<rect x="535.2" y="217.90" width="7.5" height="11.86" fill="#800040" stroke="#222" stroke-width="0.8"/>
<text x="544.0" y="226.43" font-size="4.8" fill="#666" font-family="Liberation Sans">250</text>
<rect x="535.2" y="229.76" width="7.5" height="11.86" fill="#fa00fa" stroke="#222" stroke-width="0.8"/>
<text x="544.0" y="238.29" font-size="4.8" fill="#666" font-family="Liberation Sans">100</text>
<rect x="535.2" y="241.61" width="7.5" height="11.86" fill="#0000ff" stroke="#222" stroke-width="0.8"/>
<text x="544.0" y="250.14" font-size="4.8" fill="#666" font-family="Liberation Sans">50</text>
<rect x="535.2" y="253.47" width="7.5" height="11.86" fill="#66b4f2" stroke="#222" stroke-width="0.8"/>
<text x="544.0" y="262.00" font-size="4.8" fill="#666" font-family="Liberation Sans">25</text>
<rect x="535.2" y="265.33" width="7.5" height="11.86" fill="#3dba3d" stroke="#222" stroke-width="0.8"/>
<text x="544.0" y="273.86" font-size="4.8" fill="#666" font-family="Liberation Sans">10</text>
<rect x="535.2" y="277.19" width="7.5" height="11.86" fill="#a6f28f" stroke="#222" stroke-width="0.8"/>
<text x="544.0" y="285.71" font-size="4.8" fill="#666" font-family="Liberation Sans">0.1</text>
<rect x="535.2" y="289.04" width="7.5" height="11.86" fill="#ffffff" stroke="#222" stroke-width="0.8"/>
<text x="544.0" y="297.57" font-size="4.8" fill="#666" font-family="Liberation Sans">0</text>
<rect x="240.8" y="547" width="10.199999999999994" height="85" fill="#ececf0"/>
<rect x="234.4" y="548.90" width="6.4" height="11.71" fill="#800040" stroke="#222" stroke-width="0.8"/>
<text x="242.10000000000002" y="557.36" font-size="4.8" fill="#666" font-family="Liberation Sans">250</text>
<rect x="234.4" y="560.61" width="6.4" height="11.71" fill="#fa00fa" stroke="#222" stroke-width="0.8"/>
<text x="242.10000000000002" y="569.07" font-size="4.8" fill="#666" font-family="Liberation Sans">100</text>
<rect x="234.4" y="572.33" width="6.4" height="11.71" fill="#0000ff" stroke="#222" stroke-width="0.8"/>
<text x="242.10000000000002" y="580.79" font-size="4.8" fill="#666" font-family="Liberation Sans">50</text>
<rect x="234.4" y="584.04" width="6.4" height="11.71" fill="#66b4f2" stroke="#222" stroke-width="0.8"/>
<text x="242.10000000000002" y="592.50" font-size="4.8" fill="#666" font-family="Liberation Sans">25</text>
<rect x="234.4" y="595.76" width="6.4" height="11.71" fill="#3dba3d" stroke="#222" stroke-width="0.8"/>
<text x="242.10000000000002" y="604.21" font-size="4.8" fill="#666" font-family="Liberation Sans">10</text>
<rect x="234.4" y="607.47" width="6.4" height="11.71" fill="#a6f28f" stroke="#222" stroke-width="0.8"/>
<text x="242.10000000000002" y="615.93" font-size="4.8" fill="#666" font-family="Liberation Sans">0.1</text>
<rect x="234.4" y="619.19" width="6.4" height="11.71" fill="#ffffff" stroke="#222" stroke-width="0.8"/>
<text x="242.10000000000002" y="627.64" font-size="4.8" fill="#666" font-family="Liberation Sans">0</text>
<rect x="546.7" y="547" width="12.299999999999978" height="86" fill="#ececf0"/>
<rect x="539.1" y="548.90" width="7.6" height="11.79" fill="#800040" stroke="#222" stroke-width="0.8"/>
<text x="548.0" y="557.39" font-size="4.8" fill="#666" font-family="Liberation Sans">250</text>
<rect x="539.1" y="560.69" width="7.6" height="11.79" fill="#fa00fa" stroke="#222" stroke-width="0.8"/>
<text x="548.0" y="569.18" font-size="4.8" fill="#666" font-family="Liberation Sans">100</text>
<rect x="539.1" y="572.47" width="7.6" height="11.79" fill="#0000ff" stroke="#222" stroke-width="0.8"/>
<text x="548.0" y="580.96" font-size="4.8" fill="#666" font-family="Liberation Sans">50</text>
<rect x="539.1" y="584.26" width="7.6" height="11.79" fill="#66b4f2" stroke="#222" stroke-width="0.8"/>
<text x="548.0" y="592.75" font-size="4.8" fill="#666" font-family="Liberation Sans">25</text>
<rect x="539.1" y="596.04" width="7.6" height="11.79" fill="#3dba3d" stroke="#222" stroke-width="0.8"/>
<text x="548.0" y="604.54" font-size="4.8" fill="#666" font-family="Liberation Sans">10</text>
<rect x="539.1" y="607.83" width="7.6" height="11.79" fill="#a6f28f" stroke="#222" stroke-width="0.8"/>
<text x="548.0" y="616.32" font-size="4.8" fill="#666" font-family="Liberation Sans">0.1</text>
<rect x="539.1" y="619.61" width="7.6" height="11.79" fill="#ffffff" stroke="#222" stroke-width="0.8"/>
<text x="548.0" y="628.11" font-size="4.8" fill="#666" font-family="Liberation Sans">0</text>
<text x="25.5" y="334.4" font-size="10" font-weight="bold" fill="#111" stroke="#111" stroke-width="0.25" font-family="Liberation Sans" textLength="259.5" lengthAdjust="spacing" xml:space="preserve">18 日 20 时-19 日 20 时累计降水预报图（单位：毫米）</text>
<text x="326.5" y="335" font-size="10" font-weight="bold" fill="#111" stroke="#111" stroke-width="0.25" font-family="Liberation Sans" textLength="256.0" lengthAdjust="spacing" xml:space="preserve">19 日 20 时-20 日 20 时累计降水预报图（单位：毫米）</text>
<text x="25" y="649.5" font-size="10" font-weight="bold" fill="#111" stroke="#111" stroke-width="0.25" font-family="Liberation Sans" textLength="257.5" lengthAdjust="spacing" xml:space="preserve">20 日 20 时-21 日 20 时累计降水预报图（单位：毫米）</text>
<text x="321.5" y="649.5" font-size="10" font-weight="bold" fill="#111" stroke="#111" stroke-width="0.25" font-family="Liberation Sans" textLength="259.0" lengthAdjust="spacing" xml:space="preserve">18 日 20 时-21 日 20 时累计降水预报图（单位：毫米）</text>
</svg>
</body></html>
